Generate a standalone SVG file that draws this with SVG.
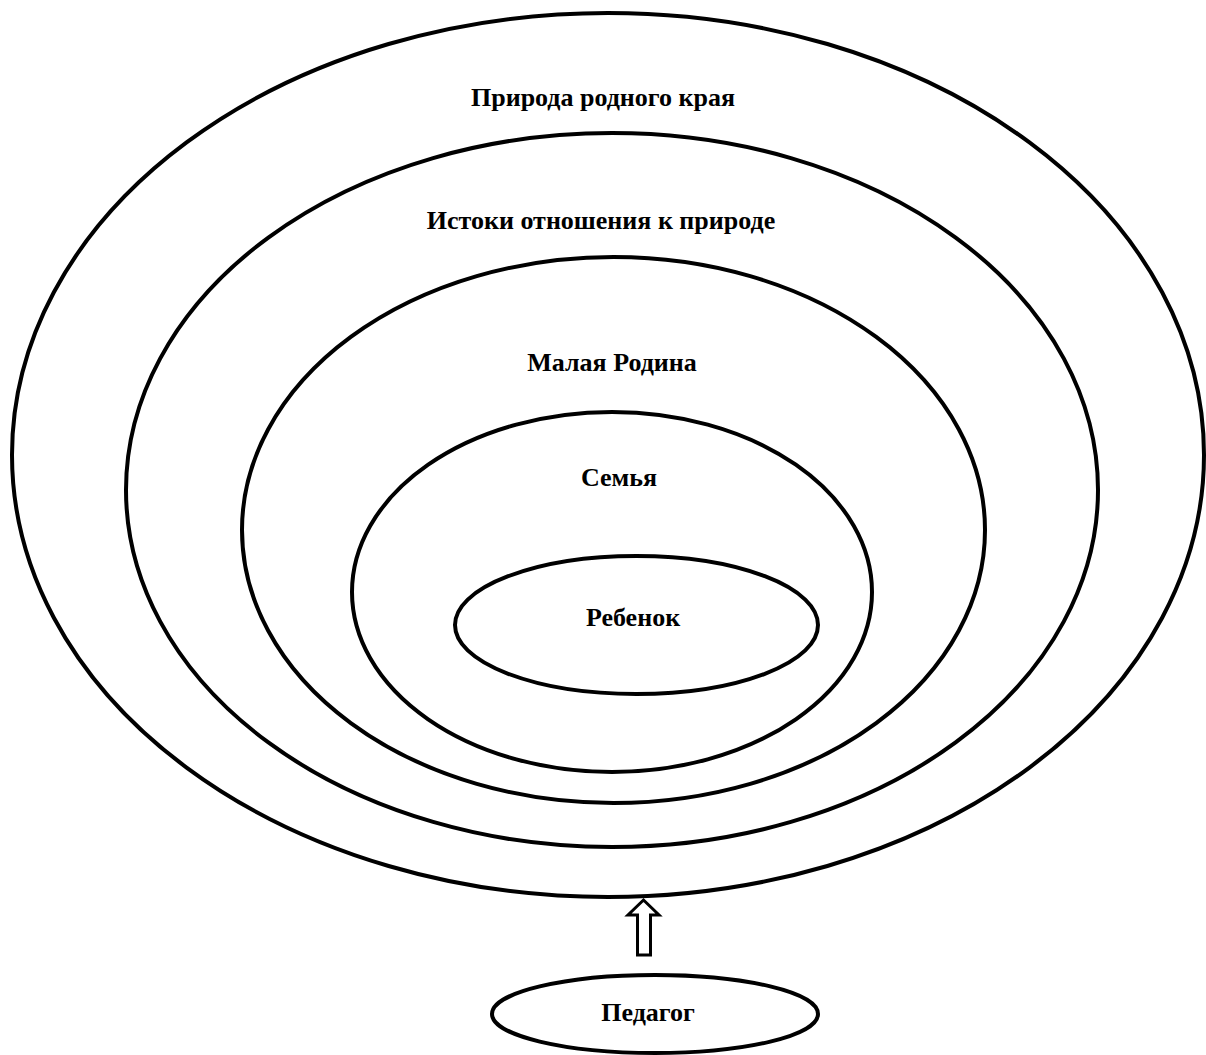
<svg xmlns="http://www.w3.org/2000/svg" width="1206" height="1055" viewBox="0 0 1206 1055">
<style>
.e{fill:none;stroke:#000;stroke-width:4}
.t{font-family:"Liberation Serif","Times New Roman",serif;font-weight:bold;font-size:26px;text-anchor:middle;fill:#000}
</style>
<rect width="1206" height="1055" fill="#fff"/>
<g id="node-priroda"><ellipse class="e" cx="608" cy="455" rx="596" ry="442"/><text class="t" x="603" y="106">Природа родного края</text></g>
<g id="node-istoki"><ellipse class="e" cx="612" cy="490" rx="486" ry="357"/><text class="t" x="601" y="229">Истоки отношения к природе</text></g>
<g id="node-malaya"><ellipse class="e" cx="613.5" cy="530" rx="371.5" ry="273"/><text class="t" x="612" y="371">Малая Родина</text></g>
<g id="node-semya"><ellipse class="e" cx="612" cy="592" rx="260" ry="180"/><text class="t" x="619" y="486">Семья</text></g>
<g id="node-rebenok"><ellipse class="e" cx="636.5" cy="625" rx="181.5" ry="69"/><text class="t" x="633" y="626">Ребенок</text></g>
<g id="node-pedagog"><ellipse class="e" cx="655" cy="1014" rx="163" ry="39"/><text class="t" x="648" y="1021">Педагог</text></g>
<g id="connectors"><path d="M637.5 955 V915 H628 L643.5 900 L659 915 H650.5 V955 Z" fill="#fff" stroke="#000" stroke-width="3" stroke-linejoin="miter"/></g>
</svg>
